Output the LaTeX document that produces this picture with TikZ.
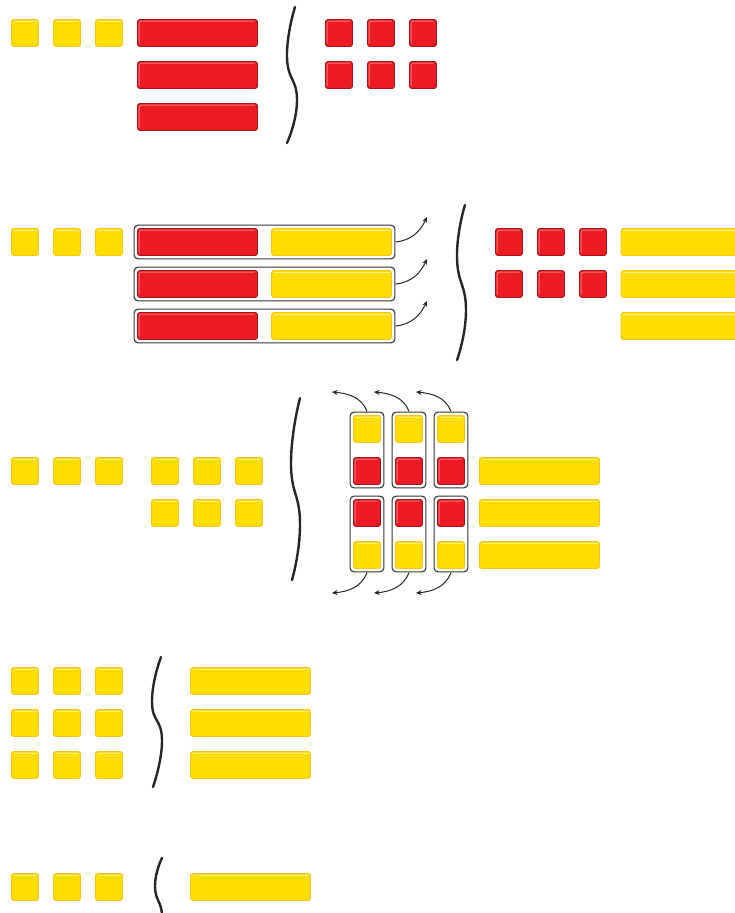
\documentclass[tikz,border=0pt]{standalone}
\usepackage{xcolor}
\usepackage{tikz}
\usetikzlibrary{arrows.meta,positioning,fit,calc}

\definecolor{tileyellow}{HTML}{FFDD00}
\definecolor{yellowedge}{HTML}{F5C518}
\definecolor{yellowhi}{HTML}{FFF08A}
\definecolor{tilered}{HTML}{ED1C24}
\definecolor{reddark}{HTML}{A5141A}
\definecolor{redhi}{HTML}{F0776F}

\begin{document}
\begin{tikzpicture}[x=1pt, y=1pt,
    tile/.style={inner sep=0pt, outer sep=0pt, rounded corners=2.5pt, line width=0.9pt},
    yhigh/.style={path picture={\draw[yellowhi, line width=0.9pt]
        ([xshift=2pt,yshift=-2pt]path picture bounding box.north west) --
        ([xshift=-2pt,yshift=-2pt]path picture bounding box.north east);}},
    rhigh/.style={path picture={\draw[redhi, line width=1pt]
        ([xshift=1.6pt,yshift=3pt]path picture bounding box.south west) --
        ([xshift=1.6pt,yshift=-1.6pt]path picture bounding box.north west) --
        ([xshift=-3pt,yshift=-1.6pt]path picture bounding box.north east);}},
    ysq/.style={tile, fill=tileyellow, draw=yellowedge, yhigh, minimum width=27pt, minimum height=27pt},
    rsq/.style={tile, fill=tilered, draw=reddark, rhigh, minimum width=27pt, minimum height=27pt},
    ybar/.style={tile, fill=tileyellow, draw=yellowedge, yhigh, minimum width=120pt, minimum height=27pt},
    rbar/.style={tile, fill=tilered, draw=reddark, rhigh, minimum width=120pt, minimum height=27pt},
    grp/.style={draw=black!80, rounded corners=4pt, line width=1.1pt, inner sep=3.4pt},
    curvearrow/.style={-{Stealth[length=5.5pt, width=5pt]}, line width=1pt, color=black!85},
    wavy/.style={line width=2.4pt, color=black!85, line cap=round}
]
\useasboundingbox (0,0) rectangle (735,-913);

%% Row 1
\node[ysq] (y1a) at (25,-33) {};
\node[ysq] (y1b) at (67,-33) {};
\node[ysq] (y1c) at (109,-33) {};
\node[rbar] (r1a) at (197.5,-33) {};
\node[rbar] (r1b) at (197.5,-75) {};
\node[rbar] (r1c) at (197.5,-117) {};
\draw[wavy] plot[smooth, tension=0.9] coordinates {(295,-7) (287,-57) (297,-100) (287,-143)};
\node[rsq] (s1a) at (339,-33) {};
\node[rsq] (s1b) at (381,-33) {};
\node[rsq] (s1c) at (423,-33) {};
\node[rsq] (s1d) at (339,-75) {};
\node[rsq] (s1e) at (381,-75) {};
\node[rsq] (s1f) at (423,-75) {};

%% Row 2
\node[ysq] (y2a) at (25,-242) {};
\node[ysq] (y2b) at (67,-242) {};
\node[ysq] (y2c) at (109,-242) {};
\node[rbar] (r2a) at (197.5,-242) {};
\node[rbar] (r2b) at (197.5,-284) {};
\node[rbar] (r2c) at (197.5,-326) {};
\node[ybar] (b2a) at (331.5,-242) {};
\node[ybar] (b2b) at (331.5,-284) {};
\node[ybar] (b2c) at (331.5,-326) {};
\node[grp, fit=(r2a)(b2a)] (g2a) {};
\node[grp, fit=(r2b)(b2b)] (g2b) {};
\node[grp, fit=(r2c)(b2c)] (g2c) {};
\coordinate (t2a) at (427,-217);
\coordinate (t2b) at (427,-259);
\coordinate (t2c) at (427,-301);
\draw[curvearrow] (g2a.east) to[out=5, in=-115] (t2a);
\draw[curvearrow] (g2b.east) to[out=5, in=-115] (t2b);
\draw[curvearrow] (g2c.east) to[out=5, in=-115] (t2c);
\draw[wavy] plot[smooth, tension=0.9] coordinates {(465,-205) (457,-257) (466,-310) (457,-360)};
\node[rsq] (s2a) at (509,-242) {};
\node[rsq] (s2b) at (551,-242) {};
\node[rsq] (s2c) at (593,-242) {};
\node[rsq] (s2d) at (509,-284) {};
\node[rsq] (s2e) at (551,-284) {};
\node[rsq] (s2f) at (593,-284) {};
\node[ybar] (e2a) at (681,-242) {};
\node[ybar] (e2b) at (681,-284) {};
\node[ybar] (e2c) at (681,-326) {};

%% Row 3
\node[ysq] (y3a) at (25,-471) {};
\node[ysq] (y3b) at (67,-471) {};
\node[ysq] (y3c) at (109,-471) {};
\node[ysq] (y3d) at (165,-471) {};
\node[ysq] (y3e) at (207,-471) {};
\node[ysq] (y3f) at (249,-471) {};
\node[ysq] (y3g) at (165,-513) {};
\node[ysq] (y3h) at (207,-513) {};
\node[ysq] (y3i) at (249,-513) {};
\draw[wavy] plot[smooth, tension=0.9] coordinates {(300,-398) (291,-463) (300,-523) (292,-580)};
\node[ysq] (c1a) at (367,-429) {};
\node[rsq] (c1b) at (367,-471) {};
\node[rsq] (c1c) at (367,-513) {};
\node[ysq] (c1d) at (367,-555) {};
\node[ysq] (c2a) at (409,-429) {};
\node[rsq] (c2b) at (409,-471) {};
\node[rsq] (c2c) at (409,-513) {};
\node[ysq] (c2d) at (409,-555) {};
\node[ysq] (c3a) at (451,-429) {};
\node[rsq] (c3b) at (451,-471) {};
\node[rsq] (c3c) at (451,-513) {};
\node[ysq] (c3d) at (451,-555) {};
\node[grp, fit=(c1a)(c1b)] (g1t) {};
\node[grp, fit=(c1c)(c1d)] (g1b) {};
\node[grp, fit=(c2a)(c2b)] (g2t) {};
\node[grp, fit=(c2c)(c2d)] (g2bt) {};
\node[grp, fit=(c3a)(c3b)] (g3t) {};
\node[grp, fit=(c3c)(c3d)] (g3b) {};
\coordinate (u1) at (332,-392);
\coordinate (u2) at (374,-392);
\coordinate (u3) at (416,-392);
\coordinate (d1) at (332,-593);
\coordinate (d2) at (374,-593);
\coordinate (d3) at (416,-593);
\draw[curvearrow] (g1t.north) to[out=110, in=-5] (u1);
\draw[curvearrow] (g2t.north) to[out=110, in=-5] (u2);
\draw[curvearrow] (g3t.north) to[out=110, in=-5] (u3);
\draw[curvearrow] (g1b.south) to[out=-110, in=5] (d1);
\draw[curvearrow] (g2bt.south) to[out=-110, in=5] (d2);
\draw[curvearrow] (g3b.south) to[out=-110, in=5] (d3);
\node[ybar] (b3a) at (539.5,-471) {};
\node[ybar] (b3b) at (539.5,-513) {};
\node[ybar] (b3c) at (539.5,-555) {};

%% Row 4
\node[ysq] (y4a) at (25,-681) {};
\node[ysq] (y4b) at (67,-681) {};
\node[ysq] (y4c) at (109,-681) {};
\node[ysq] (y4d) at (25,-723) {};
\node[ysq] (y4e) at (67,-723) {};
\node[ysq] (y4f) at (109,-723) {};
\node[ysq] (y4g) at (25,-765) {};
\node[ysq] (y4h) at (67,-765) {};
\node[ysq] (y4i) at (109,-765) {};
\draw[wavy] plot[smooth, tension=0.9] coordinates {(161,-657) (152,-702) (162,-740) (153,-787)};
\node[ybar] (b4a) at (250.5,-681) {};
\node[ybar] (b4b) at (250.5,-723) {};
\node[ybar] (b4c) at (250.5,-765) {};

%% Row 5
\node[ysq] (y5a) at (25,-887) {};
\node[ysq] (y5b) at (67,-887) {};
\node[ysq] (y5c) at (109,-887) {};
\draw[wavy] plot[smooth, tension=0.9] coordinates {(162,-858) (155,-886) (162,-915) (157,-940)};
\node[ybar] (b5a) at (250.5,-887) {};

\end{tikzpicture}
\end{document}
